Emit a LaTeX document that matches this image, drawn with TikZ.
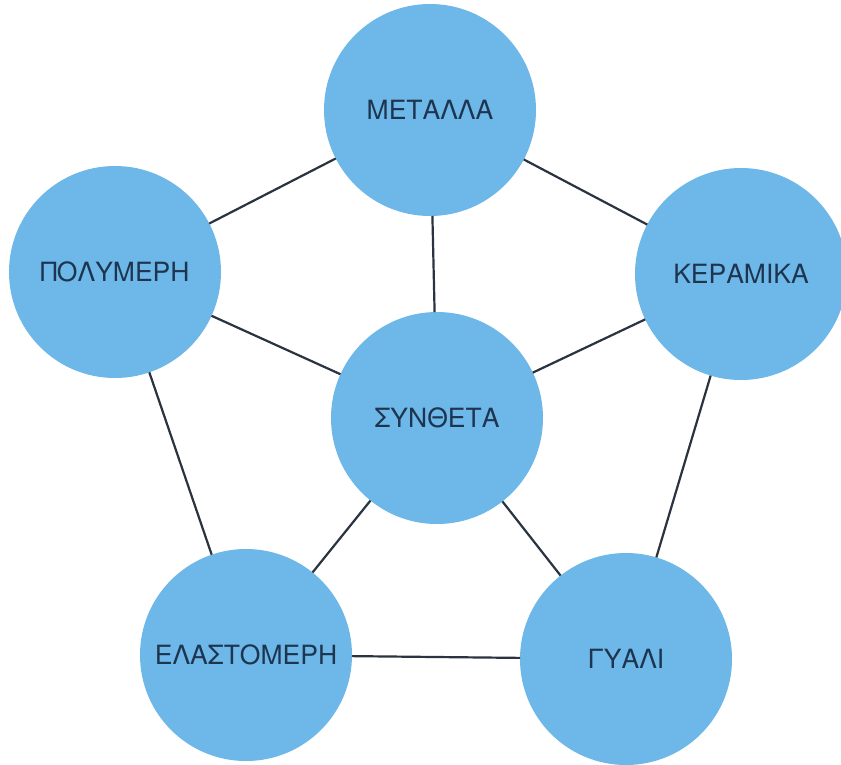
\documentclass[tikz,border=0pt]{standalone}
\usepackage{fontspec}
\setmainfont{TeX Gyre Heros}
\begin{document}
\begin{tikzpicture}[x=1pt,y=-1pt,
  ball/.style={circle,fill=ballblue,draw=none,minimum size=212pt,inner sep=0pt,outer sep=0pt,
    text=textnavy,font=\fontsize{26.5}{30}\selectfont},
  link/.style={draw=linegray,line width=2.2pt}]
\definecolor{ballblue}{HTML}{6DB8E8}
\definecolor{textnavy}{HTML}{1E3550}
\definecolor{linegray}{HTML}{2A3340}
\useasboundingbox[fill=white] (0,0) rectangle (841,764);
\node[ball] (met) at (430,110) {ΜΕΤΑΛΛΑ};
\node[ball] (pol) at (115,272) {ΠΟΛΥΜΕΡΗ};
\node[ball] (ker) at (741,274) {ΚΕΡΑΜΙΚΑ};
\node[ball] (syn) at (437,418) {ΣΥΝΘΕΤΑ};
\node[ball] (ela) at (246,655) {ΕΛΑΣΤΟΜΕΡΗ};
\node[ball] (gya) at (626,659) {ΓΥΑΛΙ};
\draw[link] (met) -- (pol);
\draw[link] (met) -- (ker);
\draw[link] (met) -- (syn);
\draw[link] (pol) -- (syn);
\draw[link] (ker) -- (syn);
\draw[link] (pol) -- (ela);
\draw[link] (ker) -- (gya);
\draw[link] (syn) -- (ela);
\draw[link] (syn) -- (gya);
\draw[link] (ela) -- (gya);
\end{tikzpicture}
\end{document}
